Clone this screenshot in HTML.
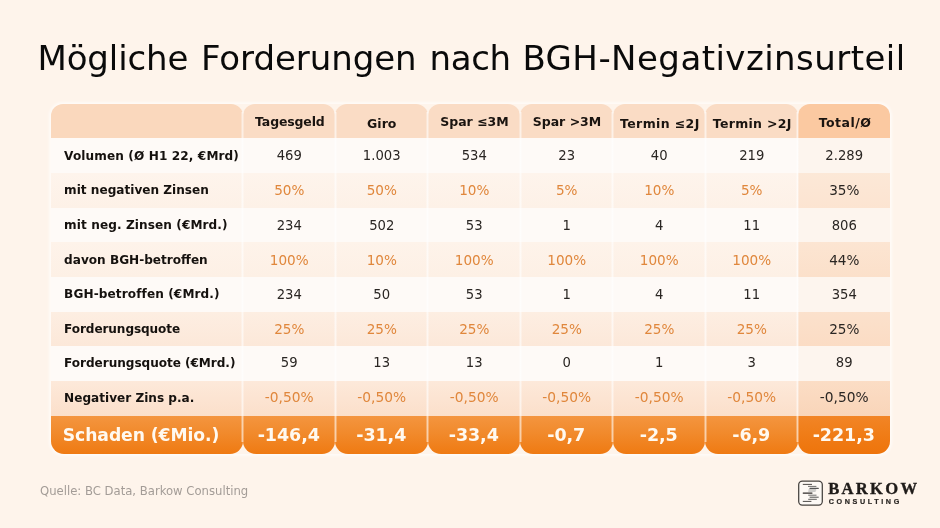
<!DOCTYPE html>
<html lang="de">
<head>
<meta charset="utf-8">
<title>Mögliche Forderungen nach BGH-Negativzinsurteil</title>
<style>
*{margin:0;padding:0;box-sizing:border-box}
html,body{width:940px;height:528px;overflow:hidden}
body{background:#fef4eb;font-family:"DejaVu Sans", "Liberation Sans", sans-serif;position:relative;color:#111}
.abs{position:absolute}
h1{position:absolute;left:0;top:37.8px;width:940px;height:40px;font-size:34px;font-weight:400;line-height:40px;white-space:nowrap;color:#0a0a0a;letter-spacing:0.26px}
.c{position:absolute;display:flex;align-items:center;justify-content:center;white-space:nowrap}
.hd{font-weight:700;font-size:12.5px;color:#1a1410;border-radius:12px 12px 0 0}
.lab{justify-content:flex-start;padding-left:13.1px;font-weight:700;font-size:12.1px;color:#15110e}
.v{padding-left:1px;font-size:13.2px;color:#2a2623}
.n2{font-size:13.6px}
.n3{font-size:13.8px}
.o{color:#e0873c}
.ft{font-weight:700;font-size:17.5px;color:#fff9f0;border-radius:0 0 13px 13px;letter-spacing:-0.08px}
.sep{position:absolute;width:3.4px;background:linear-gradient(90deg,rgba(255,255,255,0),rgba(255,255,255,.6) 35%,rgba(255,255,255,.6) 65%,rgba(255,255,255,0))}
.src{position:absolute;left:40px;top:484.1px;font-size:11.65px;color:#a39c97}
</style>
</head>
<body>
<div class="abs" style="left:51.0px;top:103.5px;width:839.0px;height:350.8px;border-radius:13px;box-shadow:0 0 3px 1.5px rgba(255,255,255,.65)"></div>
<h1><span style="position:absolute;left:37.40px;top:0;letter-spacing:-0.10px">Mögliche</span> <span style="position:absolute;left:201.00px;top:0;letter-spacing:-0.05px">Forderungen</span> <span style="position:absolute;left:429.60px;top:0;letter-spacing:-0.35px">nach</span> <span style="position:absolute;left:522.40px;top:0;letter-spacing:0.45px">BGH-Negativzinsurteil</span></h1>
<div class="c hd" style="left:51.00px;top:103.50px;width:191.50px;height:34.90px;background:#fad8bd;letter-spacing:0px;padding-top:0px;padding-left:0px;"></div>
<div class="c hd" style="left:242.50px;top:103.50px;width:92.50px;height:34.90px;background:#fadcc5;letter-spacing:-0.15px;padding-top:2px;padding-left:2.2px;">Tagesgeld</div>
<div class="c hd" style="left:335.00px;top:103.50px;width:92.50px;height:34.90px;background:#fadcc5;letter-spacing:0px;padding-top:4.6px;padding-left:1px;">Giro</div>
<div class="c hd" style="left:427.50px;top:103.50px;width:92.50px;height:34.90px;background:#fadcc5;letter-spacing:0px;padding-top:2px;padding-left:1.5px;">Spar ≤3M</div>
<div class="c hd" style="left:520.00px;top:103.50px;width:92.50px;height:34.90px;background:#fadcc5;letter-spacing:0px;padding-top:2px;padding-left:1.5px;">Spar &gt;3M</div>
<div class="c hd" style="left:612.50px;top:103.50px;width:92.50px;height:34.90px;background:#fadcc5;letter-spacing:0.38px;padding-top:4.6px;padding-left:2.2px;">Termin ≤2J</div>
<div class="c hd" style="left:705.00px;top:103.50px;width:92.50px;height:34.90px;background:#fadcc5;letter-spacing:0.3px;padding-top:4.6px;padding-left:2px;">Termin &gt;2J</div>
<div class="c hd" style="left:797.50px;top:103.50px;width:92.50px;height:34.90px;background:#fbc9a1;letter-spacing:0.45px;padding-top:2.6px;padding-left:2.5px;">Total/Ø</div>
<div class="c lab" style="left:51.00px;top:138.40px;width:191.50px;height:34.66px;background:#fefaf7;letter-spacing:0.11px;">Volumen (Ø H1 22, €Mrd)</div>
<div class="c v" style="left:242.50px;top:138.40px;width:92.50px;height:34.66px;background:#fefaf7;">469</div>
<div class="c v" style="left:335.00px;top:138.40px;width:92.50px;height:34.66px;background:#fefaf7;">1.003</div>
<div class="c v" style="left:427.50px;top:138.40px;width:92.50px;height:34.66px;background:#fefaf7;">534</div>
<div class="c v" style="left:520.00px;top:138.40px;width:92.50px;height:34.66px;background:#fefaf7;">23</div>
<div class="c v" style="left:612.50px;top:138.40px;width:92.50px;height:34.66px;background:#fefaf7;">40</div>
<div class="c v" style="left:705.00px;top:138.40px;width:92.50px;height:34.66px;background:#fefaf7;">219</div>
<div class="c v" style="left:797.50px;top:138.40px;width:92.50px;height:34.66px;background:#fdf5ee;">2.289</div>
<div class="c lab" style="left:51.00px;top:173.06px;width:191.50px;height:34.66px;background:linear-gradient(#fef4ec,#fdf1e7);letter-spacing:0px;padding-bottom:0.8px;">mit negativen Zinsen</div>
<div class="c v o n2" style="left:242.50px;top:173.06px;width:92.50px;height:34.66px;background:linear-gradient(#fef4ec,#fdf1e7);">50%</div>
<div class="c v o n2" style="left:335.00px;top:173.06px;width:92.50px;height:34.66px;background:linear-gradient(#fef4ec,#fdf1e7);">50%</div>
<div class="c v o n2" style="left:427.50px;top:173.06px;width:92.50px;height:34.66px;background:linear-gradient(#fef4ec,#fdf1e7);">10%</div>
<div class="c v o n2" style="left:520.00px;top:173.06px;width:92.50px;height:34.66px;background:linear-gradient(#fef4ec,#fdf1e7);">5%</div>
<div class="c v o n2" style="left:612.50px;top:173.06px;width:92.50px;height:34.66px;background:linear-gradient(#fef4ec,#fdf1e7);">10%</div>
<div class="c v o n2" style="left:705.00px;top:173.06px;width:92.50px;height:34.66px;background:linear-gradient(#fef4ec,#fdf1e7);">5%</div>
<div class="c v n2" style="left:797.50px;top:173.06px;width:92.50px;height:34.66px;background:linear-gradient(#fce8d7,#fce4d1);">35%</div>
<div class="c lab" style="left:51.00px;top:207.72px;width:191.50px;height:34.66px;background:#fefaf7;letter-spacing:0.09px;">mit neg. Zinsen (€Mrd.)</div>
<div class="c v" style="left:242.50px;top:207.72px;width:92.50px;height:34.66px;background:#fefaf7;">234</div>
<div class="c v" style="left:335.00px;top:207.72px;width:92.50px;height:34.66px;background:#fefaf7;">502</div>
<div class="c v" style="left:427.50px;top:207.72px;width:92.50px;height:34.66px;background:#fefaf7;">53</div>
<div class="c v" style="left:520.00px;top:207.72px;width:92.50px;height:34.66px;background:#fefaf7;">1</div>
<div class="c v" style="left:612.50px;top:207.72px;width:92.50px;height:34.66px;background:#fefaf7;">4</div>
<div class="c v" style="left:705.00px;top:207.72px;width:92.50px;height:34.66px;background:#fefaf7;">11</div>
<div class="c v" style="left:797.50px;top:207.72px;width:92.50px;height:34.66px;background:#fdf5ee;">806</div>
<div class="c lab" style="left:51.00px;top:242.38px;width:191.50px;height:34.66px;background:linear-gradient(#fef3ea,#fdf0e5);letter-spacing:0px;padding-top:1.4px;">davon BGH-betroffen</div>
<div class="c v o n2" style="left:242.50px;top:242.38px;width:92.50px;height:34.66px;background:linear-gradient(#fef3ea,#fdf0e5);">100%</div>
<div class="c v o n2" style="left:335.00px;top:242.38px;width:92.50px;height:34.66px;background:linear-gradient(#fef3ea,#fdf0e5);">10%</div>
<div class="c v o n2" style="left:427.50px;top:242.38px;width:92.50px;height:34.66px;background:linear-gradient(#fef3ea,#fdf0e5);">100%</div>
<div class="c v o n2" style="left:520.00px;top:242.38px;width:92.50px;height:34.66px;background:linear-gradient(#fef3ea,#fdf0e5);">100%</div>
<div class="c v o n2" style="left:612.50px;top:242.38px;width:92.50px;height:34.66px;background:linear-gradient(#fef3ea,#fdf0e5);">100%</div>
<div class="c v o n2" style="left:705.00px;top:242.38px;width:92.50px;height:34.66px;background:linear-gradient(#fef3ea,#fdf0e5);">100%</div>
<div class="c v n2" style="left:797.50px;top:242.38px;width:92.50px;height:34.66px;background:linear-gradient(#fce5d2,#fbe0ca);">44%</div>
<div class="c lab" style="left:51.00px;top:277.04px;width:191.50px;height:34.66px;background:#fefaf7;letter-spacing:0.1px;padding-bottom:1.2px;">BGH-betroffen (€Mrd.)</div>
<div class="c v" style="left:242.50px;top:277.04px;width:92.50px;height:34.66px;background:#fefaf7;padding-bottom:0.6px;">234</div>
<div class="c v" style="left:335.00px;top:277.04px;width:92.50px;height:34.66px;background:#fefaf7;padding-bottom:0.6px;">50</div>
<div class="c v" style="left:427.50px;top:277.04px;width:92.50px;height:34.66px;background:#fefaf7;padding-bottom:0.6px;">53</div>
<div class="c v" style="left:520.00px;top:277.04px;width:92.50px;height:34.66px;background:#fefaf7;padding-bottom:0.6px;">1</div>
<div class="c v" style="left:612.50px;top:277.04px;width:92.50px;height:34.66px;background:#fefaf7;padding-bottom:0.6px;">4</div>
<div class="c v" style="left:705.00px;top:277.04px;width:92.50px;height:34.66px;background:#fefaf7;padding-bottom:0.6px;">11</div>
<div class="c v" style="left:797.50px;top:277.04px;width:92.50px;height:34.66px;background:#fdf5ee;padding-bottom:0.6px;">354</div>
<div class="c lab" style="left:51.00px;top:311.70px;width:191.50px;height:34.66px;background:linear-gradient(#fdeee2,#fce8d9);letter-spacing:-0.1px;padding-bottom:0.6px;">Forderungsquote</div>
<div class="c v o n2" style="left:242.50px;top:311.70px;width:92.50px;height:34.66px;background:linear-gradient(#fdeee2,#fce8d9);">25%</div>
<div class="c v o n2" style="left:335.00px;top:311.70px;width:92.50px;height:34.66px;background:linear-gradient(#fdeee2,#fce8d9);">25%</div>
<div class="c v o n2" style="left:427.50px;top:311.70px;width:92.50px;height:34.66px;background:linear-gradient(#fdeee2,#fce8d9);">25%</div>
<div class="c v o n2" style="left:520.00px;top:311.70px;width:92.50px;height:34.66px;background:linear-gradient(#fdeee2,#fce8d9);">25%</div>
<div class="c v o n2" style="left:612.50px;top:311.70px;width:92.50px;height:34.66px;background:linear-gradient(#fdeee2,#fce8d9);">25%</div>
<div class="c v o n2" style="left:705.00px;top:311.70px;width:92.50px;height:34.66px;background:linear-gradient(#fdeee2,#fce8d9);">25%</div>
<div class="c v n2" style="left:797.50px;top:311.70px;width:92.50px;height:34.66px;background:linear-gradient(#fbe1cc,#fbdcc4);">25%</div>
<div class="c lab" style="left:51.00px;top:346.36px;width:191.50px;height:34.66px;background:#fefaf7;letter-spacing:-0.05px;padding-bottom:1.0px;">Forderungsquote (€Mrd.)</div>
<div class="c v" style="left:242.50px;top:346.36px;width:92.50px;height:34.66px;background:#fefaf7;padding-bottom:1.4px;">59</div>
<div class="c v" style="left:335.00px;top:346.36px;width:92.50px;height:34.66px;background:#fefaf7;padding-bottom:1.4px;">13</div>
<div class="c v" style="left:427.50px;top:346.36px;width:92.50px;height:34.66px;background:#fefaf7;padding-bottom:1.4px;">13</div>
<div class="c v" style="left:520.00px;top:346.36px;width:92.50px;height:34.66px;background:#fefaf7;padding-bottom:1.4px;">0</div>
<div class="c v" style="left:612.50px;top:346.36px;width:92.50px;height:34.66px;background:#fefaf7;padding-bottom:1.4px;">1</div>
<div class="c v" style="left:705.00px;top:346.36px;width:92.50px;height:34.66px;background:#fefaf7;padding-bottom:1.4px;">3</div>
<div class="c v" style="left:797.50px;top:346.36px;width:92.50px;height:34.66px;background:#fdf5ee;padding-bottom:1.4px;">89</div>
<div class="c lab" style="left:51.00px;top:381.02px;width:191.50px;height:34.66px;background:linear-gradient(#fde9da,#fbdfca);letter-spacing:0px;padding-bottom:1.0px;">Negativer Zins p.a.</div>
<div class="c v o n3" style="left:242.50px;top:381.02px;width:92.50px;height:34.66px;background:linear-gradient(#fde9da,#fbdfca);padding-bottom:2.8px;">-0,50%</div>
<div class="c v o n3" style="left:335.00px;top:381.02px;width:92.50px;height:34.66px;background:linear-gradient(#fde9da,#fbdfca);padding-bottom:2.8px;">-0,50%</div>
<div class="c v o n3" style="left:427.50px;top:381.02px;width:92.50px;height:34.66px;background:linear-gradient(#fde9da,#fbdfca);padding-bottom:2.8px;">-0,50%</div>
<div class="c v o n3" style="left:520.00px;top:381.02px;width:92.50px;height:34.66px;background:linear-gradient(#fde9da,#fbdfca);padding-bottom:2.8px;">-0,50%</div>
<div class="c v o n3" style="left:612.50px;top:381.02px;width:92.50px;height:34.66px;background:linear-gradient(#fde9da,#fbdfca);padding-bottom:2.8px;">-0,50%</div>
<div class="c v o n3" style="left:705.00px;top:381.02px;width:92.50px;height:34.66px;background:linear-gradient(#fde9da,#fbdfca);padding-bottom:2.8px;">-0,50%</div>
<div class="c v n3" style="left:797.50px;top:381.02px;width:92.50px;height:34.66px;background:linear-gradient(#fbddc5,#f9d5b9);padding-bottom:2.8px;">-0,50%</div>
<div class="c ft" style="left:51.00px;top:415.68px;width:191.50px;height:38.62px;background:linear-gradient(#f4953f,#f18a2c 45%,#ef7a12);justify-content:flex-start;padding-left:11.8px;font-size:17.2px;">Schaden (€Mio.)</div>
<div class="c ft" style="left:242.50px;top:415.68px;width:92.50px;height:38.62px;background:linear-gradient(#f4953f,#f18a2c 45%,#ef7a12);">-146,4</div>
<div class="c ft" style="left:335.00px;top:415.68px;width:92.50px;height:38.62px;background:linear-gradient(#f4953f,#f18a2c 45%,#ef7a12);">-31,4</div>
<div class="c ft" style="left:427.50px;top:415.68px;width:92.50px;height:38.62px;background:linear-gradient(#f4953f,#f18a2c 45%,#ef7a12);">-33,4</div>
<div class="c ft" style="left:520.00px;top:415.68px;width:92.50px;height:38.62px;background:linear-gradient(#f4953f,#f18a2c 45%,#ef7a12);">-0,7</div>
<div class="c ft" style="left:612.50px;top:415.68px;width:92.50px;height:38.62px;background:linear-gradient(#f4953f,#f18a2c 45%,#ef7a12);">-2,5</div>
<div class="c ft" style="left:705.00px;top:415.68px;width:92.50px;height:38.62px;background:linear-gradient(#f4953f,#f18a2c 45%,#ef7a12);">-6,9</div>
<div class="c ft" style="left:797.50px;top:415.68px;width:92.50px;height:38.62px;background:linear-gradient(#f28526,#f07d18 45%,#ee740b);">-221,3</div>
<div class="sep" style="left:241.10px;top:111.50px;height:330.80px"></div>
<div class="sep" style="left:333.60px;top:111.50px;height:330.80px"></div>
<div class="sep" style="left:426.10px;top:111.50px;height:330.80px"></div>
<div class="sep" style="left:518.60px;top:111.50px;height:330.80px"></div>
<div class="sep" style="left:611.10px;top:111.50px;height:330.80px"></div>
<div class="sep" style="left:703.60px;top:111.50px;height:330.80px"></div>
<div class="sep" style="left:796.10px;top:111.50px;height:330.80px"></div>
<div class="src">Quelle: BC Data, Barkow Consulting</div>
<svg class="abs" style="left:796px;top:478px" width="132" height="32" viewBox="0 0 132 32">
<rect x="2.7" y="3.2" width="23.6" height="23.8" rx="3.6" fill="#fdf9f5" stroke="#45413e" stroke-width="1.25"/>
<g stroke-width="0.85" stroke-linecap="round">
<line x1="7.2" y1="6.4" x2="15.6" y2="6.4" stroke="#2e2a28"/>
<line x1="12.4" y1="8.4" x2="20.0" y2="8.4" stroke="#555"/>
<line x1="14.0" y1="10.4" x2="22.3" y2="10.4" stroke="#555" stroke-width="1.1"/>
<line x1="13.0" y1="11.9" x2="19.8" y2="11.9" stroke="#999"/>
<line x1="12.6" y1="13.2" x2="19.2" y2="13.2" stroke="#aaa"/>
<line x1="7.2" y1="15.1" x2="16.0" y2="15.1" stroke="#2e2a28" stroke-width="1.1"/>
<line x1="12.6" y1="17.2" x2="20.1" y2="17.2" stroke="#555"/>
<line x1="14.0" y1="19.2" x2="22.3" y2="19.2" stroke="#333"/>
<line x1="12.6" y1="21.3" x2="20.4" y2="21.3" stroke="#444"/>
<line x1="7.2" y1="23.4" x2="15.0" y2="23.4" stroke="#2e2a28"/>
</g>
<text x="32.2" y="15.9" font-family="'Liberation Serif', 'DejaVu Serif', serif" font-weight="700" font-size="16.6" letter-spacing="2.3" fill="#1f1b19" stroke="#1f1b19" stroke-width="0.35">BARKOW</text>
<text x="32.7" y="25.6" font-family="'Liberation Sans', sans-serif" font-weight="700" font-size="7.2" letter-spacing="2.62" fill="#2a2623" stroke="#2a2623" stroke-width="0.2">CONSULTING</text>
</svg>
</body>
</html>
